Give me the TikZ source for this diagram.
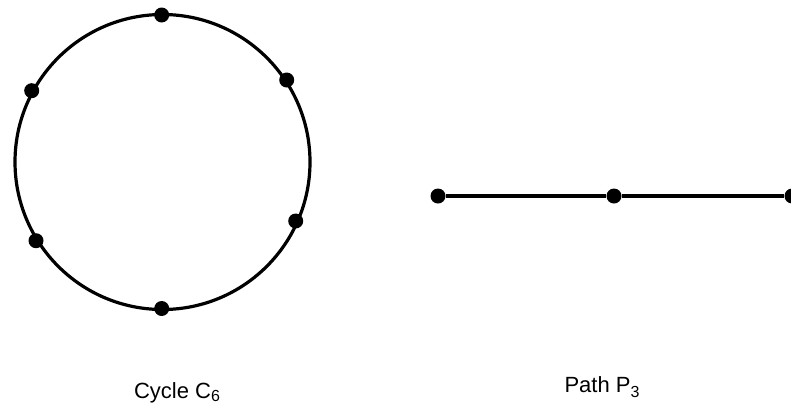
\documentclass[tikz,border=0pt]{standalone}
\usepackage{fontspec}
\setmainfont{Liberation Sans}
\begin{document}
\begin{tikzpicture}[x=1pt,y=-1pt,
  vtx/.style={circle,fill=black,inner sep=0pt,minimum size=15pt},
  edge/.style={line width=3.2pt,black},
  lbl/.style={font=\fontsize{22}{26}\selectfont,anchor=base,inner sep=0pt}]
\useasboundingbox (0,0) rectangle (791,405);
% cycle C6
\coordinate (cc) at (162.5,162);
\draw[edge] (cc) circle[radius=147.5];
\node[vtx] (c1) at (161.7,15) {};
\node[vtx] (c2) at (286.7,80) {};
\node[vtx] (c3) at (295.7,221) {};
\node[vtx] (c4) at (161.7,308.5) {};
\node[vtx] (c5) at (36,240.7) {};
\node[vtx] (c6) at (31.7,90.7) {};
% path P3
\node[vtx] (p1) at (438,196) {};
\node[vtx] (p2) at (614,196) {};
\node[vtx] (p3) at (792,196) {};
\draw[edge] (p1) -- (p2);
\draw[edge] (p2) -- (p3);
% labels
\node[lbl] (lc) at (177,398) {Cycle C\raisebox{-3pt}{\fontsize{16}{18}\selectfont 6}};
\node[lbl] (lp) at (602,392) {Path P\raisebox{-5pt}{\fontsize{16}{18}\selectfont 3}};
\end{tikzpicture}
\end{document}
